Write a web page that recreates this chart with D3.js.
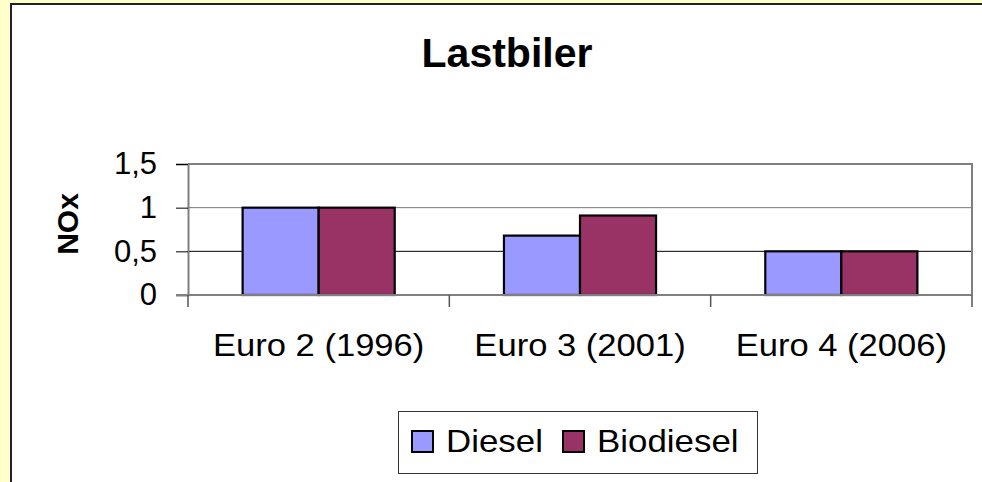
<!DOCTYPE html>
<html>
<head>
<meta charset="utf-8">
<script src="https://cdn.jsdelivr.net/npm/d3@7"></script>
<style>
  html, body { margin: 0; padding: 0; background: #FFFFCC; overflow: hidden; }
  text { font-family: "Liberation Sans", Arial, sans-serif; fill: #000; }
</style>
</head>
<body>
<div id="chart"></div>
<script>
// data
let categories = ["Euro 2 (1996)", "Euro 3 (2001)", "Euro 4 (2006)"];
let seriesNames = ["Diesel", "Biodiesel"];
let dieselValues = [1, 0.68, 0.5];
let biodieselValues = [1, 0.91, 0.5];
let yTicks = [0, 0.5, 1, 1.5];
let yTickLabels = ["0", "0,5", "1", "1,5"];
let colors = ["#9999FF", "#993366"];

function buildChart() {

let boxWidth = 982;
let boxHeight = 482;

let plot = { left: 188, right: 972, top: 164, bottom: 295 };

let svg = d3.select("#chart")
    .append("svg")
    .attr("width", boxWidth)
    .attr("height", boxHeight)
    .style("display", "block");

// chart area (white), dark edge only on top and left
svg.append("rect")
    .attr("x", 11).attr("y", 4)
    .attr("width", boxWidth - 11).attr("height", boxHeight - 4)
    .attr("fill", "#fff");
svg.append("path")
    .attr("d", `M11,${boxHeight}V4H${boxWidth}`)
    .attr("fill", "none")
    .attr("stroke", "#222")
    .attr("stroke-width", 2);

// title
svg.append("text")
    .attr("x", 507).attr("y", 67)
    .attr("text-anchor", "middle")
    .attr("font-size", "41px")
    .attr("font-weight", "bold")
    .text("Lastbiler");

// scales
let x0 = d3.scaleBand()
    .domain(categories)
    .range([plot.left, plot.right])
    .paddingInner(0.418)
    .paddingOuter(0.209);

let x1 = d3.scaleBand()
    .domain(seriesNames)
    .range([0, x0.bandwidth()]);

let y = d3.scaleLinear()
    .domain([0, 1.5])
    .range([plot.bottom, plot.top]);

// gridlines
svg.append("g")
    .selectAll("line")
    .data(yTicks.filter(d => d > 0 && d < 1.5))
    .enter()
    .append("line")
    .attr("x1", plot.left).attr("x2", plot.right)
    .attr("y1", d => y(d)).attr("y2", d => y(d))
    .attr("stroke", d => d == 1 ? "#777" : "#000")
    .attr("stroke-width", 1);

// plot area border (top, right)
svg.append("path")
    .attr("d", `M${plot.left},${plot.top}H${plot.right}V${plot.bottom}`)
    .attr("fill", "none")
    .attr("stroke", "#808080")
    .attr("stroke-width", 2);

// bars
let rows = categories.map((c, i) => ({
    cat: c,
    vals: [
        { name: seriesNames[0], v: dieselValues[i] },
        { name: seriesNames[1], v: biodieselValues[i] }
    ]
}));

let groups = svg.append("g")
    .selectAll("g")
    .data(rows)
    .enter()
    .append("g")
    .attr("transform", d => `translate(${x0(d.cat)},0)`);

groups.selectAll("rect")
    .data(d => d.vals)
    .enter()
    .append("rect")
    .attr("x", d => x1(d.name))
    .attr("y", d => y(d.v))
    .attr("width", x1.bandwidth())
    .attr("height", d => y(0) - y(d.v))
    .attr("fill", (d, i) => colors[i])
    .attr("stroke", "#000")
    .attr("stroke-width", 2.2);

// y axis
let yAxis = d3.axisLeft(y)
    .tickValues(yTicks)
    .tickSize(12)
    .tickPadding(19)
    .tickFormat((d, i) => yTickLabels[i]);

let yg = svg.append("g")
    .attr("transform", `translate(${plot.left},0)`)
    .call(yAxis);
yg.select(".domain").attr("stroke", "#808080").attr("stroke-width", 2);
yg.selectAll(".tick line").attr("stroke", "#000");
yg.selectAll(".tick text")
    .attr("font-size", "31px")
    .attr("font-family", "'Liberation Sans', Arial, sans-serif")
    .attr("fill", "#000");

// x axis: ticks at category boundaries
let boundaries = [plot.left].concat(categories.map(c => x0(c) + x0.bandwidth() + x0.step() * 0.209));
let xg = svg.append("g");
xg.append("line")
    .attr("x1", plot.left - 12).attr("x2", plot.right)
    .attr("y1", plot.bottom).attr("y2", plot.bottom)
    .attr("stroke", "#808080")
    .attr("stroke-width", 2);
xg.selectAll(".xtick")
    .data(boundaries)
    .enter()
    .append("line")
    .attr("class", "xtick")
    .attr("x1", d => d).attr("x2", d => d)
    .attr("y1", plot.bottom).attr("y2", plot.bottom + 12)
    .attr("stroke", "#555")
    .attr("stroke-width", 1.5);
xg.selectAll(".xlabel")
    .data(categories)
    .enter()
    .append("text")
    .attr("class", "xlabel")
    .attr("transform", d => `translate(${x0(d) + x0.bandwidth() / 2},356) scale(1.08,1)`)
    .attr("text-anchor", "middle")
    .attr("font-size", "32px")
    .text(d => d);

// y axis title
svg.append("text")
    .attr("transform", "translate(78,224) rotate(-90)")
    .attr("text-anchor", "middle")
    .attr("font-size", "30px")
    .attr("font-weight", "bold")
    .text("NOx");

// legend
let legend = svg.append("g");
legend.append("rect")
    .attr("x", 398.5).attr("y", 411.5)
    .attr("width", 359).attr("height", 62)
    .attr("fill", "#fff")
    .attr("stroke", "#333")
    .attr("stroke-width", 1);

let legendX = [412, 563];
let items = legend.selectAll(".item")
    .data(seriesNames)
    .enter()
    .append("g")
    .attr("class", "item")
    .attr("transform", (d, i) => `translate(${legendX[i]},431)`);
items.append("rect")
    .attr("width", 21).attr("height", 21)
    .attr("fill", (d, i) => colors[i])
    .attr("stroke", "#000")
    .attr("stroke-width", 2);
items.append("text")
    .attr("transform", "translate(34,21) scale(1.09,1)")
    .attr("font-size", "32px")
    .text(d => d);
}

buildChart();
</script>
</body>
</html>
